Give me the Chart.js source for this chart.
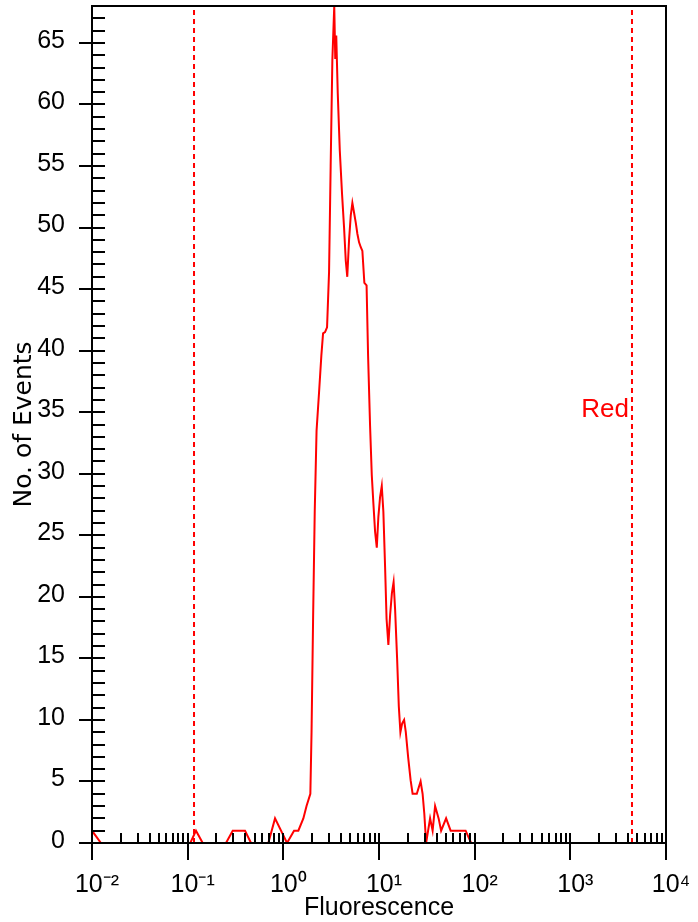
<!DOCTYPE html>
<html>
<head>
<meta charset="utf-8">
<style>
html,body{margin:0;padding:0;background:#fff;}
#wrap{width:698px;height:922px;position:relative;}
canvas{display:block;}
</style>
<script src="https://cdn.jsdelivr.net/npm/chart.js@4.4.0/dist/chart.umd.min.js"></script>
</head>
<body>
<div id="wrap"><canvas id="c" width="698" height="922"></canvas></div>
<script>
// ---- data ----
const fluorescence = [0.01, 0.0124, 0.1065, 0.1222, 0.1436, 0.2516, 0.2957, 0.3977, 0.4595, 0.6967,
  0.8189, 1.093, 1.294, 1.435, 1.619, 1.748, 1.916, 1.972, 2.045, 2.130,
  2.225, 2.362, 2.497, 2.602, 2.729, 2.864, 3.006, 3.124, 3.254, 3.406,
  3.490, 3.574, 3.706, 3.889, 4.111, 4.313, 4.494, 4.659, 4.865, 5.069,
  5.268, 5.488, 5.717, 5.941, 6.190, 6.449, 6.703, 7.032, 7.415, 7.689,
  8.066, 8.404, 8.734, 9.100, 9.480, 9.851, 10.26, 10.69, 11.11, 11.58,
  12.00, 12.53, 13.06, 13.64, 14.21, 14.73, 15.46, 16.11, 16.74, 17.44,
  18.30, 19.06, 20.15, 21.40, 22.45, 24.84, 27.22, 28.56, 29.75, 31.08,
  34.21, 36.34, 38.59, 42.00, 44.60, 50.29, 56.07, 80.44, 91.83, 10000];
const events = [1, 0, 0, 1, 0, 0, 1, 1, 0, 0,
  2, 0, 1, 1, 2, 3, 4, 9, 18, 27,
  33.5, 36.6, 39.6, 41.4, 41.5, 41.9, 46.4, 55, 63.6, 68,
  63.7, 65.6, 60.9, 56.3, 52.7, 50, 47.3, 46, 49, 51,
  52, 51.2, 50.4, 49.5, 48.8, 48.4, 48.1, 45.5, 45.3, 39.6,
  33.9, 29.9, 27.6, 25.3, 24, 26.5, 28.1, 29, 26.9, 22.4,
  18.2, 16.1, 18.5, 20.3, 21.2, 19, 15, 11.1, 9, 9.7,
  10, 9, 7, 5.1, 4, 4, 5, 4, 2.4, 0,
  2, 1, 3, 2, 1, 2, 1, 1, 0, 0];
const gateMarkers = [0.1165, 4410];
const gateLabel = 'Red';
const decadeExponents = [-2, -1, 0, 1, 2, 3, 4];
const decadeLabels = ['10\u207B\u00B2', '10\u207B\u00B9', '10\u2070', '10\u00B9', '10\u00B2', '10\u00B3', '10\u2074'];
const yMin = 0, yMax = 68;
const xTitle = 'Fluorescence';
const yTitle = 'No. of Events';

// ---- chart ----
const RED = '#ff0000';
const FONT = "'Liberation Sans', Arial, sans-serif";
Chart.defaults.font.family = FONT;
Chart.defaults.color = '#000';

function decadeIndex(v) {
  const l = Math.log10(v);
  const r = Math.round(l);
  return Math.abs(l - r) < 1e-9 ? decadeExponents.indexOf(r) : -1;
}
function noPad(scale) {
  scale.paddingTop = 0; scale.paddingBottom = 0;
  scale.paddingLeft = 0; scale.paddingRight = 0;
}

const histPoints = fluorescence.map((f, i) => ({x: f, y: events[i]}));
const markerSets = gateMarkers.map(m => ({
  data: [{x: m, y: yMin}, {x: m, y: yMax}],
  borderColor: RED, borderWidth: 2, borderDash: [5, 4],
  pointRadius: 0, tension: 0
}));

const frame = {
  id: 'frame',
  afterDatasetsDraw(chart) {
    const {ctx, chartArea: a, scales: {x, y}} = chart;
    ctx.save();
    ctx.strokeStyle = '#000';
    ctx.lineWidth = 2;
    ctx.beginPath();
    x.ticks.forEach(t => {
      const px = Math.round(x.getPixelForValue(t.value));
      const major = decadeIndex(t.value) >= 0;
      ctx.moveTo(px, a.bottom - 10);
      ctx.lineTo(px, a.bottom + (major ? 17 : 0));
    });
    y.ticks.forEach(t => {
      const py = Math.round(y.getPixelForValue(t.value));
      const major = t.value % 5 === 0;
      ctx.moveTo(a.left - (major ? 13 : 0), py);
      ctx.lineTo(a.left + 13, py);
    });
    ctx.stroke();
    ctx.strokeRect(a.left, a.top, a.right - a.left, a.bottom - a.top);
    // gate label
    const gx = x.getPixelForValue(gateMarkers[1]);
    ctx.fillStyle = RED;
    ctx.font = "26px " + FONT;
    ctx.textAlign = 'right';
    ctx.textBaseline = 'alphabetic';
    ctx.fillText(gateLabel, gx - 3, a.top + (a.bottom - a.top) * 0.4916);
    ctx.restore();
  }
};

new Chart(document.getElementById('c'), {
  type: 'line',
  data: {
    datasets: [
      {data: histPoints, borderColor: RED, borderWidth: 2, pointRadius: 0, tension: 0, fill: false},
      ...markerSets
    ]
  },
  options: {
    responsive: false,
    animation: false,
    devicePixelRatio: 1,
    events: [],
    layout: {padding: {top: 6, right: 32, bottom: 0, left: 0}},
    plugins: {legend: {display: false}, tooltip: {enabled: false}},
    scales: {
      x: {
        type: 'logarithmic',
        min: 0.01, max: 10000,
        afterBuildTicks(scale) {
          const ticks = [];
          for (let e = decadeExponents[0]; e < decadeExponents[decadeExponents.length - 1]; e++) {
            for (let k = 1; k <= 9; k++) ticks.push({value: k * Math.pow(10, e)});
          }
          ticks.push({value: Math.pow(10, decadeExponents[decadeExponents.length - 1])});
          scale.ticks = ticks;
        },
        afterFit(scale) { scale.height = 79; noPad(scale); },
        grid: {display: false},
        border: {display: false},
        ticks: {
          autoSkip: false, maxRotation: 0, minRotation: 0,
          padding: 19, labelOffset: 5,
          font: {size: 25},
          color: '#000',
          callback(v) { const i = decadeIndex(v); return i >= 0 ? decadeLabels[i] : ''; }
        },
        title: {display: true, text: xTitle, font: {size: 25, lineHeight: 1}, color: '#000', padding: {top: 0, bottom: 1}}
      },
      y: {
        type: 'linear',
        min: yMin, max: yMax,
        afterFit(scale) { scale.width = 92; noPad(scale); },
        grid: {display: false},
        border: {display: false},
        ticks: {
          stepSize: 1, autoSkip: false,
          padding: 19, labelOffset: -2,
          font: {size: 25},
          color: '#000',
          callback(v) { return v % 5 === 0 ? String(v) : ''; }
        },
        title: {display: true, text: yTitle, font: {family: "'DejaVu Sans', 'Liberation Sans', sans-serif", size: 25, lineHeight: 1}, color: '#000', padding: {top: 12, bottom: 0}}
      }
    }
  },
  plugins: [frame]
});
</script>
</body>
</html>
